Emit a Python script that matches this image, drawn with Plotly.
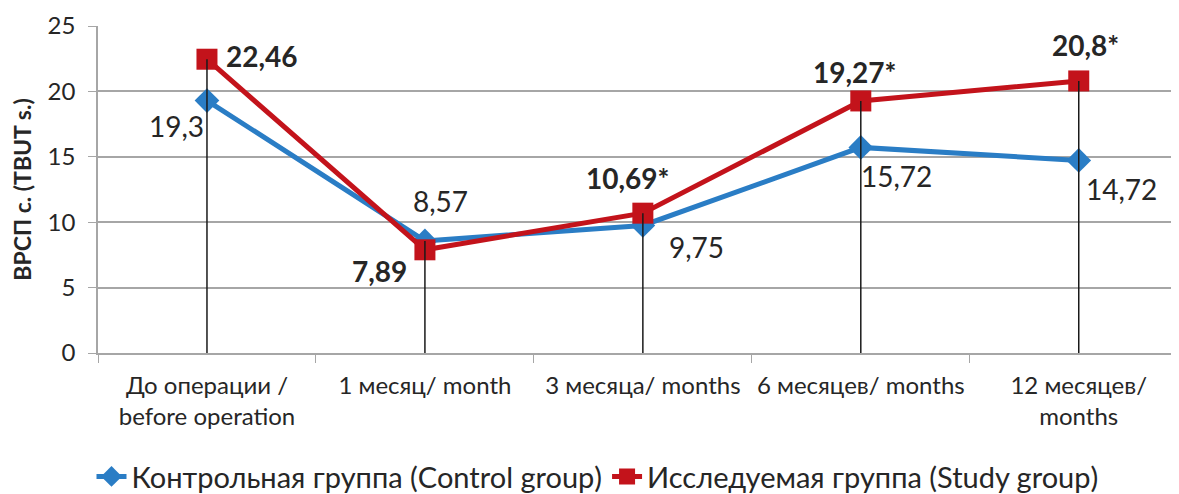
import plotly.graph_objects as go

categories = ["До операции /<br>before operation", "1 месяц/ month", "3 месяца/ months",
              "6 месяцев/ months", "12 месяцев/<br>months"]
control = [19.3, 8.57, 9.75, 15.72, 14.72]
study = [22.46, 7.89, 10.69, 19.27, 20.8]
study_sig = [False, False, True, True, True]
control_name = "Контрольная группа (Control group)"
study_name = "Исследуемая группа (Study group)"
y_title = "ВРСП с. (TBUT s.)"
y_ticks = [0, 5, 10, 15, 20, 25]

BLUE = "#2A7DC5"
RED = "#C3131B"
TXT = "#262626"
GRID = "#A6A6A6"
FONT = "Lato"

def fmt(v):
    s = f"{v:g}"
    return s.replace(".", ",")

fig = go.Figure()
fig.add_trace(go.Scatter(x=categories, y=control, mode="lines+markers", name=control_name,
                         line=dict(color=BLUE, width=5),
                         marker=dict(symbol="diamond", size=19, color=BLUE)))
fig.add_trace(go.Scatter(x=categories, y=study, mode="lines+markers", name=study_name,
                         line=dict(color=RED, width=5),
                         marker=dict(symbol="square", size=21, color=RED)))

# drop lines from 0 to the higher value at each category
dx, dy = [], []
for c, a, b in zip(categories, control, study):
    dx += [c, c, None]
    dy += [0, max(a, b), None]
fig.add_trace(go.Scatter(x=dx, y=dy, mode="lines", line=dict(color="#1a1a1a", width=1.5),
                         showlegend=False, hoverinfo="skip"))

control_off = [(-30, -25), (16, 40), (54, -22), (36, -29), (43, -29)]
study_off = [(55, 3), (-45, -21), (-15, 35), (-6, 29), (7, 36)]

for c, v, (xs, ys) in zip(categories, control, control_off):
    fig.add_annotation(x=c, y=v, text=fmt(v), showarrow=False, xshift=xs, yshift=ys,
                       font=dict(family=FONT, size=28, color=TXT))
for c, v, sig, (xs, ys) in zip(categories, study, study_sig, study_off):
    fig.add_annotation(x=c, y=v, text="<b>" + fmt(v) + ("*" if sig else "") + "</b>",
                       showarrow=False, xshift=xs, yshift=ys,
                       font=dict(family=FONT, size=28, color=TXT))

fig.update_layout(
    width=1179, height=494,
    margin=dict(l=90, r=8, t=18, b=149, autoexpand=False),
    paper_bgcolor="white", plot_bgcolor="white",
    font=dict(family=FONT, color=TXT),
    legend=dict(orientation="h", xref="container", x=0.5, xanchor="center",
                y=-0.30, yanchor="top",
                font=dict(family=FONT, size=29, color=TXT),
                tracegroupgap=0),
    showlegend=True,
)
fig.update_xaxes(type="category", range=[-0.5, 4.46], showgrid=False, automargin=False,
                 showline=True, linecolor=GRID, linewidth=1.5,
                 ticks="outside", tickson="boundaries", ticklen=8, tickcolor=GRID,
                 ticklabelstandoff=10,
                 tickfont=dict(family=FONT, size=24, color=TXT))
fig.update_yaxes(range=[0, 25], tickvals=y_ticks, showgrid=True, gridcolor=GRID, gridwidth=1.5,
                 showline=True, linecolor=GRID, linewidth=1.5, zeroline=False, automargin=False,
                 ticks="outside", ticklen=8, tickcolor=GRID, ticklabelstandoff=8,
                 tickfont=dict(family=FONT, size=24, color=TXT),
                 title=dict(text="<b>" + y_title + "</b>", font=dict(family=FONT, size=23, color=TXT),
                            standoff=14))

fig.write_html("out.html")
